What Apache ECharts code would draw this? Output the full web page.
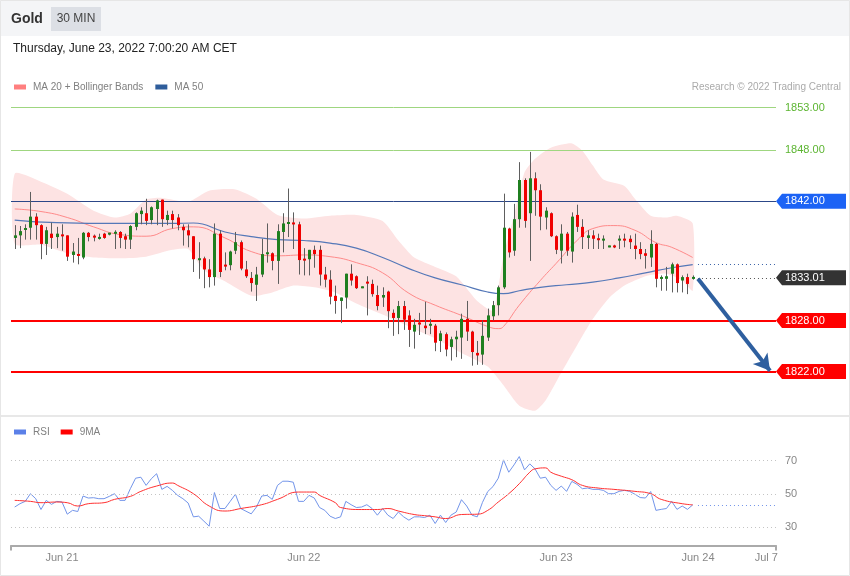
<!DOCTYPE html>
<html><head><meta charset="utf-8">
<script src="https://cdn.jsdelivr.net/npm/echarts@6/dist/echarts.min.js"></script>
<style>html,body{margin:0;padding:0;background:#fff}#c{width:850px;height:576px}</style>
</head><body><div id="c"></div>
<script>
// ---- data ----
const ohlc = [
[1837.7,1838.0,1836.4,1839.2],[1838.0,1838.5,1836.5,1839.1],[1838.7,1838.8,1837.5,1839.3],[1838.9,1840.2,1837.5,1843.1],[1840.2,1839.2,1837.5,1840.6],
[1839.2,1837.0,1835.2,1839.3],[1837.0,1838.6,1835.7,1839.0],[1838.2,1837.7,1836.4,1839.5],[1837.8,1838.2,1836.5,1839.0],[1838.1,1837.9,1836.2,1839.3],
[1838.0,1835.5,1835.0,1838.0],[1835.7,1836.1,1834.8,1837.1],[1835.8,1835.6,1834.6,1837.7],[1835.4,1838.3,1835.2,1838.4],[1838.3,1837.8,1837.3,1838.4],
[1837.9,1837.8,1837.3,1838.1],[1837.6,1837.8,1837.5,1838.2],[1838.2,1837.7,1837.6,1838.3],[1838.2,1838.2,1838.0,1838.3],[1838.2,1838.4,1836.4,1838.6],
[1838.4,1837.7,1836.5,1838.5],[1837.9,1837.5,1836.4,1838.2],[1837.5,1839.1,1836.4,1839.2],[1839.0,1840.6,1838.6,1840.7],[1840.5,1840.9,1839.3,1841.3],
[1840.6,1839.7,1839.2,1842.3],[1839.8,1841.3,1839.3,1841.4],[1841.1,1842.1,1839.2,1842.2],[1842.2,1839.9,1839.0,1842.2],[1839.8,1840.4,1839.2,1840.9],
[1840.5,1839.8,1838.8,1840.9],[1840.1,1839.2,1838.6,1840.5],[1839.0,1838.6,1836.8,1839.3],[1838.6,1838.0,1836.6,1839.3],[1837.9,1835.2,1833.7,1837.9],
[1835.1,1835.3,1832.9,1837.2],[1835.3,1834.0,1831.8,1835.5],[1834.0,1833.1,1831.9,1835.2],[1833.1,1838.2,1832.1,1839.4],[1838.2,1833.7,1833.1,1838.6],
[1834.5,1834.4,1833.9,1836.0],[1834.5,1836.1,1833.9,1836.2],[1836.2,1837.2,1835.8,1838.4],[1837.2,1834.1,1833.9,1837.4],[1834.0,1833.2,1833.0,1835.0],
[1833.0,1832.4,1831.4,1833.7],[1832.2,1833.4,1830.3,1834.3],[1833.4,1835.8,1833.1,1837.6],[1835.8,1836.0,1834.8,1839.4],[1835.9,1835.0,1833.9,1836.0],
[1835.0,1838.5,1832.3,1839.3],[1838.4,1839.4,1836.0,1840.6],[1839.4,1839.5,1837.8,1843.5],[1839.5,1839.3,1836.4,1840.7],[1839.3,1835.1,1833.4,1839.6],
[1835.2,1835.1,1833.3,1836.5],[1835.2,1836.3,1833.3,1836.3],[1836.3,1835.8,1834.2,1836.8],[1836.3,1833.4,1832.1,1836.8],[1833.4,1832.8,1831.9,1834.3],
[1832.8,1830.8,1829.9,1833.9],[1830.9,1830.3,1828.8,1832.1],[1830.3,1830.7,1827.7,1830.7],[1830.7,1833.5,1829.4,1833.5],[1833.5,1832.7,1832.1,1834.6],
[1833.2,1831.8,1831.7,1833.3],[1831.9,1831.9,1831.8,1832.0],[1832.5,1832.4,1828.6,1833.2],[1832.3,1831.1,1830.8,1832.8],[1831.0,1829.7,1829.2,1832.1],
[1830.7,1831.0,1829.6,1831.9],[1831.4,1829.1,1827.1,1831.5],[1828.9,1828.3,1826.2,1829.3],[1828.3,1829.7,1826.4,1830.3],[1829.7,1828.1,1826.9,1830.3],
[1828.6,1826.9,1824.9,1829.2],[1826.7,1827.5,1824.7,1828.2],[1827.7,1827.6,1826.3,1828.9],[1827.4,1827.1,1826.4,1830.2],[1827.5,1827.5,1826.4,1828.2],
[1827.4,1825.4,1824.4,1827.6],[1825.6,1826.5,1824.3,1826.8],[1826.4,1824.6,1823.8,1826.6],[1824.9,1825.8,1823.3,1826.1],[1825.8,1826.1,1823.7,1826.8],
[1826.0,1828.2,1823.5,1828.8],[1828.2,1826.7,1825.6,1830.3],[1826.7,1824.3,1822.7,1826.8],[1824.2,1823.9,1822.8,1825.6],[1824.0,1826.2,1822.8,1828.0],
[1826.0,1828.6,1825.6,1829.4],[1828.5,1829.8,1828.0,1830.3],[1829.8,1831.9,1828.6,1832.1],[1831.9,1838.9,1831.7,1842.9],[1838.8,1836.0,1835.4,1838.9],
[1836.2,1839.9,1835.6,1841.7],[1839.9,1844.5,1838.9,1846.6],[1844.5,1839.7,1838.9,1844.7],[1840.6,1844.7,1835.0,1847.8],[1844.7,1843.3,1840.3,1845.4],
[1843.3,1840.2,1838.6,1844.0],[1840.1,1840.9,1838.7,1841.3],[1840.6,1837.9,1837.8,1840.7],[1837.9,1836.3,1835.8,1838.0],[1836.2,1838.2,1834.7,1839.3],
[1838.2,1836.2,1835.6,1838.4],[1836.1,1840.2,1834.8,1840.7],[1840.4,1839.0,1838.4,1841.6],[1839.0,1837.8,1836.4,1839.9],[1837.7,1838.0,1836.4,1838.6],
[1838.0,1837.6,1836.4,1838.6],[1837.6,1837.5,1836.4,1838.2],[1837.5,1837.5,1836.4,1838.0],[1836.7,1836.7,1836.6,1836.8],[1836.8,1836.6,1836.5,1836.9],
[1837.4,1837.6,1836.4,1838.0],[1837.6,1837.4,1836.6,1838.2],[1837.6,1837.2,1836.4,1838.0],[1836.8,1836.4,1835.2,1838.2],[1836.4,1835.8,1835.2,1837.2],
[1835.9,1835.6,1834.1,1836.4],[1835.4,1837.0,1834.3,1838.6],[1837.0,1832.9,1831.9,1837.1],[1832.9,1833.1,1831.5,1833.3],[1832.9,1833.2,1831.5,1834.3],
[1833.5,1834.6,1831.3,1834.8],[1834.6,1832.4,1831.3,1834.7],[1832.7,1833.1,1831.3,1833.3],[1833.1,1832.3,1831.1,1833.5],[1833.0,1833.01,1832.8,1833.3]
];
const ma20 = [[0,1841.1],[5,1840.8],[10,1840.1],[15,1839.0],[20,1838.1],[25,1837.9],[30,1838.8],[34,1839.0],[40,1837.7],[45,1836.1],[50,1835.6],[55,1835.7],[60,1835.5],[65,1834.8],[70,1833.6],[75,1831.2],[80,1829.8],[85,1828.6],[90,1827.3],[92,1827.05],[93,1827.3],[96,1829.8],[100,1832.7],[103,1834.7],[107,1837.4],[110,1838.8],[114,1839.15],[118,1838.6],[122,1837.15],[125,1836.6],[129,1835.4]];
const ma50 = [[0,1839.8],[8,1839.5],[20,1839.4],[30,1839.4],[34,1839.45],[40,1838.4],[45,1837.85],[50,1837.5],[55,1837.4],[60,1837.1],[65,1836.5],[70,1835.4],[75,1834.1],[80,1833.0],[85,1832.2],[90,1831.35],[93,1831.15],[96,1831.5],[100,1831.9],[105,1832.2],[110,1832.5],[115,1833.0],[120,1833.6],[125,1834.2],[129,1834.57]];
const bandUpper = [[0,1845.25],[5,1844.3],[10,1842.9],[15,1840.9],[19,1840.1],[22,1840.55],[25,1842.2],[28,1842.4],[33,1841.96],[37,1843.25],[42,1843.4],[46,1842.3],[50,1840.4],[55,1839.97],[60,1840.3],[65,1840.4],[70,1839.7],[73,1837.4],[76,1835.4],[80,1834.3],[84,1833.2],[88,1830.3],[91,1829.2],[93,1835.6],[95,1840.3],[97,1845.4],[99,1847.0],[102,1848.3],[106,1848.8],[108,1847.95],[110,1846.2],[112,1844.55],[116,1843.8],[118,1842.3],[121,1840.3],[124,1840.1],[126,1840.3],[129,1839.4]];
const bandLower = [[0,1837.0],[5,1836.9],[10,1835.9],[15,1835.4],[20,1835.3],[25,1835.5],[30,1836.3],[33,1836.4],[36,1833.9],[40,1832.6],[45,1830.9],[49,1831.3],[53,1832.1],[57,1831.9],[61,1831.3],[65,1830.0],[70,1828.7],[75,1827.3],[80,1825.9],[85,1824.2],[90,1822.6],[93,1820.4],[96,1818.0],[99,1817.4],[101,1818.6],[104,1821.9],[107,1825.1],[110,1828.2],[113,1830.6],[116,1832.1],[120,1833.2],[124,1833.5],[127,1832.7],[129,1831.5]];
const rsi = [42.1,44.1,45.5,50.1,47.1,40.6,46.1,43.7,45.5,45.1,37.8,40.1,39.4,48.7,47.5,47.7,47.1,47.1,48.5,50.1,
46.1,46.1,53.1,59.4,60.0,55.1,59.1,62.1,52.7,54.5,52.1,49.1,47.1,44.5,36.2,36.6,33.6,30.6,50.8,41.2,
41.2,45.5,49.8,41.2,39.6,38.0,42.1,48.7,49.1,46.7,55.1,57.6,57.6,57.0,45.5,45.5,49.1,47.5,41.8,40.1,
36.6,35.2,36.2,45.5,43.5,41.8,42.1,43.5,41.2,37.2,41.2,37.2,35.2,39.1,36.2,34.2,36.2,36.2,35.8,37.2,
32.2,37.2,32.8,37.2,39.1,46.5,42.7,37.2,36.2,44.9,51.4,54.4,59.4,70.4,63.0,67.4,72.4,64.4,68.0,65.0,
59.4,60.0,55.1,52.1,54.7,51.5,57.5,55.7,53.1,53.5,52.7,52.7,52.1,50.1,50.1,51.5,52.1,51.5,49.8,47.8,
47.5,51.4,40.1,40.7,41.2,45.5,40.7,42.7,40.7,43.4];
const rsiMA9 = [[0,46.1],[3,45.5],[5,44.7],[8,45.1],[10,44.7],[12,42.7],[14,44.1],[17,44.7],[19,46.7],[22,48.5],[24,51.5],[27,54.7],[30,56.5],[31,55.1],[34,50.1],[37,42.7],[40,39.7],[43,41.2],[47,43.5],[50,46.7],[54,51.1],[57,51.1],[58,49.1],[61,44.7],[62,41.8],[66,40.6],[69,40.6],[71,41.2],[73,39.7],[76,37.6],[78,36.9],[80,36.2],[82,35.2],[85,37.6],[88,37.8],[90,40.1],[92,45.1],[94,50.1],[96,56.1],[98,63.0],[99,65.0],[101,65.6],[102,63.0],[104,60.6],[106,58.5],[108,55.1],[111,53.5],[114,52.7],[118,51.5],[121,50.1],[123,46.7],[127,44.1],[129,43.4]];
const tickLabels = ['Jun 21','Jun 22','Jun 23','Jun 24','Jul 7'];
const tickIdx = [9, 55, 103, 130, 143];
const greenLevels = [1853.00, 1848.00];
const resistance = 1842.00;
const lastPrice = 1833.01;
const supports = [1828.00, 1822.00];
const ma50Last = 1834.57;
const rsiLast = 43.4;
const rsiLevels = [30, 50, 70];
const arrowFrom = [130, 1832.9];
const arrowTo = [143.7, 1822.1];

// ---- chart ----
const X_MIN = -0.704, X_MAX = 144.844;
const FONT = 'Liberation Sans, Arial, sans-serif';
const chart = echarts.init(document.getElementById('c'), null, {renderer:'canvas'});

const option = {
  animation: false,
  backgroundColor: '#ffffff',
  textStyle: {fontFamily: FONT},
  grid: [
    {left: 11, width: 765, top: 90.6, height: 323.6},
    {left: 11, width: 765, top: 443.9, height: 101.6}
  ],
  legend: [
    {left: 14, top: 82, padding: 0, itemWidth: 12, itemHeight: 5, itemGap: 12, icon: 'rect',
     textStyle: {fontSize: 10, color: '#808080', fontFamily: FONT, padding: [0, 0, 0, 2]}, selectedMode: false,
     data: [{name: 'MA 20 + Bollinger Bands', itemStyle: {color: '#ff7f7f'}}, {name: 'MA 50', itemStyle: {color: '#2f5d9b'}}]},
    {left: 14, top: 427, padding: 0, itemWidth: 12, itemHeight: 5, itemGap: 11, icon: 'rect',
     textStyle: {fontSize: 10, color: '#808080', fontFamily: FONT, padding: [0, 0, 0, 2]}, selectedMode: false,
     data: [{name: 'RSI', itemStyle: {color: '#5b80e8'}}, {name: '9MA', itemStyle: {color: '#ff0000'}}]}
  ],
  xAxis: [
    {type: 'value', gridIndex: 0, min: X_MIN, max: X_MAX, show: false},
    {type: 'value', gridIndex: 1, min: X_MIN, max: X_MAX, splitLine: {show: false},
     axisLine: {show: true, onZero: false, lineStyle: {color: '#aaaaaa', width: 2}},
     axisTick: {show: true, customValues: [X_MIN, X_MAX], length: 5, lineStyle: {color: '#aaaaaa', width: 2}},
     axisLabel: {customValues: tickIdx, color: '#888888', fontSize: 11, margin: 7,
       formatter: function (v) { const k = tickIdx.indexOf(Math.round(v)); return k >= 0 ? tickLabels[k] : ''; }}}
  ],
  yAxis: [
    {type: 'value', gridIndex: 0, min: 1817, max: 1855, show: false},
    {type: 'value', gridIndex: 1, min: 19, max: 80, position: 'right',
     splitLine: {show: false}, axisLine: {show: false}, axisTick: {show: false},
     axisLabel: {customValues: rsiLevels, color: '#888888', fontSize: 11, margin: 9}}
  ],
  series: [
    {type: 'custom', name: 'band', xAxisIndex: 0, yAxisIndex: 0, silent: true, z: 1,
     data: [[0, bandUpper[0][1]]],
     renderItem: function (params, api) {
       const pts = bandUpper.map(p => api.coord(p)).concat(bandLower.slice().reverse().map(p => api.coord(p)));
       return {type: 'polygon', shape: {points: pts, smooth: 0.2}, style: {fill: '#fde3e3'}};
     }},
    {type: 'line', name: 'MA 20 + Bollinger Bands', xAxisIndex: 0, yAxisIndex: 0, data: ma20, smooth: true,
     showSymbol: false, silent: true, z: 2, lineStyle: {color: '#ff8a8a', width: 1}, itemStyle: {color: '#ff7f7f'}},
    {type: 'line', name: 'MA 50', xAxisIndex: 0, yAxisIndex: 0, data: ma50, smooth: true,
     showSymbol: false, silent: true, z: 2, lineStyle: {color: '#5578b8', width: 1.2}, itemStyle: {color: '#2f5d9b'}},
    {type: 'custom', name: 'Gold', xAxisIndex: 0, yAxisIndex: 0, z: 5, silent: true,
     data: ohlc.map((d, i) => [i, d[0], d[1], d[2], d[3]]),
     encode: {x: 0, y: [1, 2, 3, 4]},
     renderItem: function (params, api) {
       const i = api.value(0), o = api.value(1), c = api.value(2), l = api.value(3), h = api.value(4);
       const po = api.coord([i, o]), pc = api.coord([i, c]), pl = api.coord([i, l]), ph = api.coord([i, h]);
       const cx = Math.round(po[0]);
       let top = Math.min(po[1], pc[1]), bot = Math.max(po[1], pc[1]);
       if (bot - top < 2) { const m = (top + bot) / 2; top = m - 1; bot = m + 1; }
       const up = c >= o;
       return {type: 'group', children: [
         {type: 'line', shape: {x1: cx + 0.5, y1: ph[1], x2: cx + 0.5, y2: pl[1]}, style: {stroke: '#5e5e5e', lineWidth: 1}},
         {type: 'rect', shape: {x: cx - 1, y: top, width: 3, height: bot - top}, style: {fill: up ? '#1f7f1f' : '#f00000'}}
       ]};
     }},
    {type: 'line', name: 'levels', xAxisIndex: 0, yAxisIndex: 0, data: [[0, lastPrice]], showSymbol: false,
     lineStyle: {width: 0, opacity: 0}, silent: true, z: 6,
     markLine: {silent: true, symbol: ['none', 'none'], animation: false, label: {show: false},
       data: [
         {yAxis: greenLevels[0], lineStyle: {color: '#9fd680', width: 1, type: 'solid'}},
         {yAxis: greenLevels[1], lineStyle: {color: '#9fd680', width: 1, type: 'solid'}},
         {yAxis: resistance, lineStyle: {color: '#2c4788', width: 1, type: 'solid'}},
         {yAxis: supports[0], lineStyle: {color: '#ff0000', width: 2, type: 'solid'}},
         {yAxis: supports[1], lineStyle: {color: '#ff0000', width: 2, type: 'solid'}},
         [{coord: [130, lastPrice], lineStyle: {color: '#555555', width: 1, type: [1, 3]}}, {coord: [X_MAX, lastPrice]}],
         [{coord: [130, ma50Last], lineStyle: {color: '#3a62a8', width: 1, type: [1, 3]}}, {coord: [X_MAX, ma50Last]}],
         [{coord: arrowFrom, symbol: 'none', lineStyle: {color: '#2e5f9f', width: 4, type: 'solid'}},
          {coord: arrowTo, symbol: 'arrow', symbolSize: [14, 16]}]
       ]}},
    {type: 'line', name: 'RSI', xAxisIndex: 1, yAxisIndex: 1, data: rsi.map((v, i) => [i, v]),
     showSymbol: false, silent: true, z: 3, lineStyle: {color: '#7395ea', width: 1}, itemStyle: {color: '#5b80e8'},
     markLine: {silent: true, symbol: ['none', 'none'], label: {show: false}, animation: false,
       data: rsiLevels.map(v => ({yAxis: v, lineStyle: {color: '#c4c4c4', width: 1, type: [1, 3]}})).concat([
         [{coord: [130, rsiLast], lineStyle: {color: '#7395ea', width: 1, type: [1, 3]}}, {coord: [X_MAX, rsiLast]}]
       ])}},
    {type: 'line', name: '9MA', xAxisIndex: 1, yAxisIndex: 1, data: rsiMA9, smooth: true,
     showSymbol: false, silent: true, z: 4, lineStyle: {color: '#ff3030', width: 1}, itemStyle: {color: '#ff0000'}}
  ]
};
chart.setOption(option);

// ---- frame, header and price tags (tags placed through the axis scales) ----
const g = [];
g.push({type: 'rect', z: -10, shape: {x: 0, y: 0, width: 850, height: 36}, style: {fill: '#f4f5f7'}});
g.push({type: 'text', x: 11, y: 19, style: {text: 'Gold', font: 'bold 14px ' + FONT, fill: '#333333', verticalAlign: 'middle'}});
g.push({type: 'rect', shape: {x: 51, y: 7, width: 50, height: 24}, style: {fill: '#dcdfe5'}});
g.push({type: 'text', x: 76, y: 19, style: {text: '30 MIN', font: '12px ' + FONT, fill: '#444444', align: 'center', verticalAlign: 'middle'}});
g.push({type: 'text', x: 13, y: 49, style: {text: 'Thursday, June 23, 2022 7:00:20 AM CET', font: '12px ' + FONT, fill: '#222222', verticalAlign: 'middle'}});
g.push({type: 'text', x: 841, y: 87, style: {text: 'Research \u00a9 2022 Trading Central', font: '10px ' + FONT, fill: '#aaaaaa', align: 'right', verticalAlign: 'middle'}});
g.push({type: 'line', shape: {x1: 0, y1: 416, x2: 850, y2: 416}, style: {stroke: '#e8e8e8', lineWidth: 2}});
g.push({type: 'rect', shape: {x: 0.5, y: 0.5, width: 849, height: 575}, style: {fill: null, stroke: '#e6e6e6', lineWidth: 1}});

const xTip = chart.convertToPixel({xAxisIndex: 0}, X_MAX);
greenLevels.forEach(v => {
  const y = chart.convertToPixel({yAxisIndex: 0}, v);
  g.push({type: 'text', x: xTip + 9, y: y, style: {text: v.toFixed(2), font: '11px ' + FONT, fill: '#5cb531', verticalAlign: 'middle'}});
});
const tags = [[resistance, '#1c63f5'], [lastPrice, '#333333'], [supports[0], '#ff0000'], [supports[1], '#ff0000']];
tags.forEach(t => {
  const y = chart.convertToPixel({yAxisIndex: 0}, t[0]);
  g.push({type: 'polygon', shape: {points: [[xTip, y], [xTip + 6, y - 7.5], [846, y - 7.5], [846, y + 7.5], [xTip + 6, y + 7.5]]}, style: {fill: t[1]}});
  g.push({type: 'text', x: xTip + 9, y: y, style: {text: t[0].toFixed(2), font: '11px ' + FONT, fill: '#ffffff', verticalAlign: 'middle'}});
});
chart.setOption({graphic: g});
</script>
</body></html>
